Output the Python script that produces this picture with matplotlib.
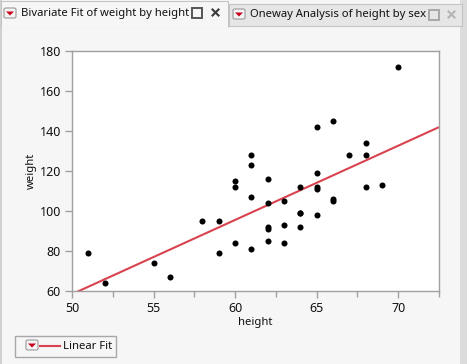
import numpy as np
import matplotlib.pyplot as plt
from matplotlib.patches import Rectangle, FancyBboxPatch, Polygon
from matplotlib.lines import Line2D

# Big Class: height (in) and weight (lb)
height = [59, 61, 55, 66, 52, 60, 61, 51, 60, 61, 56, 65, 63, 58, 59, 61, 62, 65, 63, 62,
          63, 64, 65, 64, 68, 64, 69, 62, 64, 67, 65, 66, 62, 66, 65, 60, 68, 62, 68, 70]
weight = [95, 123, 74, 145, 64, 84, 128, 79, 112, 107, 67, 98, 105, 95, 79, 81, 91, 142, 84, 85,
          93, 99, 119, 92, 112, 99, 113, 92, 112, 128, 111, 105, 104, 106, 112, 115, 128, 116, 134, 172]
x_ticks = [50, 55, 60, 65, 70]
y_ticks = [60, 80, 100, 120, 140, 160, 180]
tab_titles = ["Bivariate Fit of weight by height", "Oneway Analysis of height by sex"]
fit_label = "Linear Fit"

plt.rcParams['font.family'] = ['Noto Sans', 'DejaVu Sans']

W, H = 467, 364
TXT = 8.1
fig = plt.figure(figsize=(W / 100, H / 100), dpi=100)
fig.patch.set_facecolor('#f6f6f6')


def px(x0, y0, w, h):
    # pixel box (top-left origin) -> figure fraction
    return (x0 / W, 1 - (y0 + h) / H, w / W, h / H)


def frect(x0, y0, w, h, fc, ec='none', lw=1, z=0):
    l, b, ww, hh = px(x0, y0, w, h)
    fig.patches.append(Rectangle((l, b), ww, hh, transform=fig.transFigure,
                                 facecolor=fc, edgecolor=ec, linewidth=lw, zorder=z))


def fline(xa, ya, xb, yb, color, lw):
    fig.lines.append(Line2D([xa / W, xb / W], [1 - ya / H, 1 - yb / H],
                            transform=fig.transFigure, color=color, lw=lw, zorder=6))


def dropdown(x0, y0):
    l, b, ww, hh = px(x0, y0, 12, 10)
    fig.patches.append(FancyBboxPatch((l, b), ww, hh, boxstyle="round,pad=0,rounding_size=0.004",
                                      transform=fig.transFigure, facecolor='#f4f4f4',
                                      edgecolor='#9a9a9a', linewidth=0.8, zorder=5))
    cx = x0 + 6
    tri = [((cx - 4) / W, 1 - (y0 + 3.5) / H), ((cx + 4) / W, 1 - (y0 + 3.5) / H),
           (cx / W, 1 - (y0 + 7.5) / H)]
    fig.patches.append(Polygon(tri, closed=True, transform=fig.transFigure,
                               facecolor='#c8001e', edgecolor='none', zorder=6))


def close_x(cx, cy, color):
    fline(cx - 3, cy - 3, cx + 3, cy + 3, color, 1.5)
    fline(cx - 3, cy + 3, cx + 3, cy - 3, color, 1.5)


# right window edge and left edge
frect(460, 0, 7, H, '#dcdcdc')
frect(0, 0, 1.5, H, '#d0d0d0')

# tabs
frect(229, 4, 233, 22, '#e6e6e6', '#c4c4c4', 0.8, z=1)
frect(1, 1, 227, 26, '#f6f6f6', '#c4c4c4', 0.8, z=2)
frect(1.5, 24, 226, 4, '#f6f6f6', z=3)

dropdown(4, 8)
fig.text(21 / W, 1 - 13.5 / H, tab_titles[0], fontsize=TXT, va='center', ha='left', color='#111111')
frect(192, 8, 10, 10, 'none', '#555555', 1.4, z=5)
close_x(215.5, 12.5, '#3a3a3a')

dropdown(233, 9)
fig.text(250 / W, 1 - 15 / H, tab_titles[1], fontsize=TXT, va='center', ha='left', color='#111111')
frect(429, 10, 10, 10, 'none', '#a8a8a8', 1.4, z=5)
close_x(451.5, 14.5, '#b4b4b4')

# plot
ax = fig.add_axes(px(72, 51, 367, 240))
ax.set_facecolor('white')
ax.scatter(height, weight, s=19, color='black', zorder=3, linewidths=0)

slope, intercept = np.polyfit(height, weight, 1)
xs = np.array([50, 72.5])
ax.plot(xs, intercept + slope * xs, color='#d9434f', lw=1.5, zorder=2, solid_capstyle='butt')

ax.set_xlim(50, 72.5)
ax.set_ylim(60, 180)
ax.set_xticks(x_ticks)
ax.set_yticks(y_ticks)
ax.set_xticks([52.5, 57.5, 62.5, 67.5, 72.5], minor=True)
for s in ax.spines.values():
    s.set_color('#a0a0a0')
    s.set_linewidth(1)
ax.tick_params(axis='both', which='major', length=5, width=1, color='#a0a0a0',
               labelsize=9, labelcolor='#111111', pad=3)
ax.tick_params(axis='x', which='minor', length=4, width=1, color='#a0a0a0')
ax.set_xlabel('height', fontsize=TXT, color='#111111', labelpad=1)
ax.set_ylabel('weight', fontsize=TXT, color='#111111', labelpad=2)

# legend box
frect(15, 336, 101, 21, 'none', '#a8a8a8', 1, z=4)
dropdown(26, 340)
fline(40, 346, 60, 346, '#d9434f', 1.5)
fig.text(63 / W, 1 - 346.5 / H, fit_label, fontsize=TXT, va='center', ha='left', color='#111111')

fig.savefig('out.png', dpi=100, facecolor=fig.get_facecolor())
